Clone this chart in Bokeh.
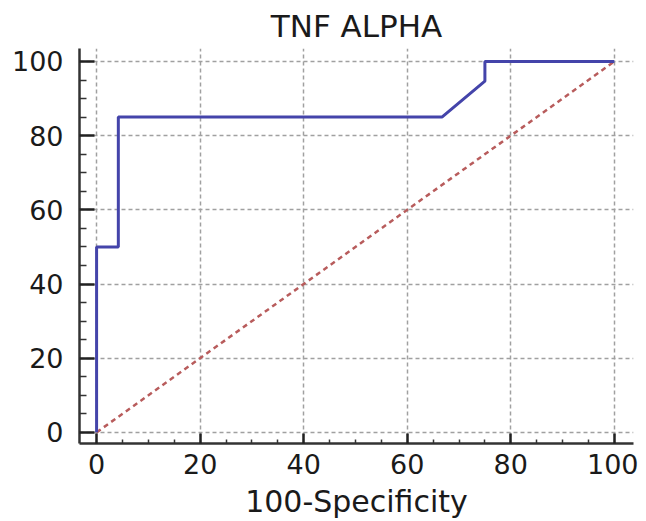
from bokeh.plotting import figure
from bokeh.models import Range1d, FixedTicker
from bokeh.embed import file_html
from bokeh.resources import INLINE

# ROC curve data (100-Specificity, Sensitivity)
roc_x = [0, 0, 4.2, 4.2, 66.7, 75, 75, 100]
roc_y = [0, 50, 50, 85, 85, 94.7, 100, 100]
ref_x = [0, 100]
ref_y = [0, 100]
ticks = [0, 20, 40, 60, 80, 100]
title_text = "TNF ALPHA"
x_label = "100-Specificity"

FONT = "DejaVu Sans"

p = figure(width=638, height=521, output_backend="svg", toolbar_location=None,
           x_range=Range1d(-3.3, 103.7), y_range=Range1d(-3.0, 103.5),
           min_border_left=79, min_border_right=5, min_border_top=48, min_border_bottom=70,
           title=title_text)
p.outline_line_color = None
p.background_fill_color = "white"
p.border_fill_color = "white"

p.title.align = "center"
p.title.text_font = FONT
p.title.text_font_size = "31px"
p.title.text_font_style = "normal"
p.title.text_color = "#1a1a1a"

p.line(ref_x, ref_y, line_color="#B85C5C", line_width=2.5, line_dash="5 4")
p.line(roc_x, roc_y, line_color="#4444AA", line_width=3)

for ax in (p.xaxis[0], p.yaxis[0]):
    ax.ticker = FixedTicker(ticks=ticks, minor_ticks=[v for v in range(0, 101, 5) if v % 20])
    ax.axis_line_color = "#333333"
    ax.axis_line_width = 2.5
    ax.major_tick_line_color = "#222222"
    ax.major_tick_line_width = 2.5
    ax.minor_tick_line_color = "#333333"
    ax.minor_tick_line_width = 1.5
    ax.major_tick_out = 0
    ax.minor_tick_out = 0
    ax.major_label_text_font = FONT
    ax.major_label_text_font_size = "27px"
    ax.major_label_text_color = "#1a1a1a"

p.yaxis[0].major_tick_in = 15
p.yaxis[0].minor_tick_in = 7
p.yaxis[0].major_label_standoff = 16
p.xaxis[0].major_tick_in = 10
p.xaxis[0].minor_tick_in = 4
p.xaxis[0].major_label_standoff = 10

p.xaxis[0].axis_label = x_label
p.xaxis[0].axis_label_text_font = FONT
p.xaxis[0].axis_label_text_font_size = "30px"
p.xaxis[0].axis_label_text_font_style = "normal"
p.xaxis[0].axis_label_text_color = "#1a1a1a"
p.xaxis[0].axis_label_standoff = 7

for g in (p.xgrid[0], p.ygrid[0]):
    g.grid_line_color = "#a0a0a0"
    g.grid_line_width = 1.5
    g.grid_line_dash = "4 3"

open("out.html", "w").write(file_html(p, INLINE))
